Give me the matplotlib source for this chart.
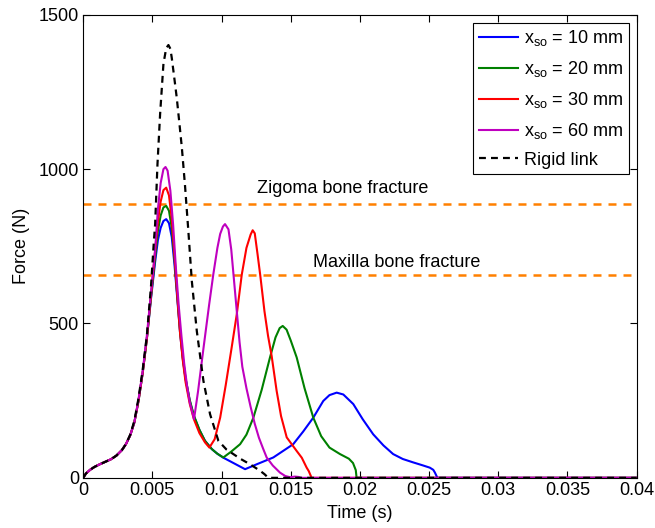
import matplotlib
matplotlib.use("Agg")
import matplotlib.pyplot as plt
from matplotlib.ticker import FormatStrFormatter

plt.rcParams['font.family'] = ['Liberation Sans', 'DejaVu Sans']
plt.rcParams['mathtext.fontset'] = 'custom'
plt.rcParams['mathtext.rm'] = 'Liberation Sans'
plt.rcParams['mathtext.it'] = 'Liberation Sans'

# impact force histories, time in s, force in N
t_10 = [0, 0.0002, 0.0005, 0.0008, 0.0012, 0.0016, 0.002, 0.0024, 0.0028, 0.0031,
        0.0034, 0.0037, 0.004, 0.0043, 0.0046, 0.0049, 0.0052, 0.0054, 0.0056, 0.0058,
        0.006, 0.0062, 0.0064, 0.0066, 0.0068, 0.007, 0.0072, 0.0074, 0.0077, 0.008,
        0.0084, 0.0088, 0.0093, 0.0097, 0.0101, 0.0117, 0.0126, 0.01374, 0.01518, 0.0159,
        0.01663, 0.01735, 0.0178, 0.01832, 0.0188, 0.01952, 0.0202, 0.02096, 0.0217, 0.0224,
        0.0231, 0.02385, 0.0245, 0.02505, 0.0253, 0.02542, 0.0256, 0.04]
f_10 = [0, 14, 26, 35, 44, 52, 60, 72, 90, 110,
        138, 180, 250, 340, 450, 580, 700, 770, 810, 832,
        838, 825, 780, 690, 580, 470, 385, 320, 250, 200,
        155, 120, 93, 78, 66, 28, 45, 66, 109, 150,
        195, 249, 268, 276, 270, 239, 190, 141, 105, 77,
        61, 50, 41, 33, 26, 17, 0, 0]

t_20 = [0, 0.0002, 0.0005, 0.0008, 0.0012, 0.0016, 0.002, 0.0024, 0.0028, 0.0031,
        0.0034, 0.0037, 0.004, 0.0043, 0.0046, 0.0049, 0.0052, 0.0054, 0.0056, 0.0058,
        0.006, 0.0062, 0.0064, 0.0066, 0.0068, 0.007, 0.0072, 0.0074, 0.0077, 0.008,
        0.0084, 0.0088, 0.0093, 0.0097, 0.01013, 0.0107, 0.01134, 0.0118, 0.0123, 0.0129,
        0.0135, 0.0139, 0.0142, 0.01442, 0.0147, 0.0150, 0.01543, 0.016, 0.01663, 0.0172,
        0.0178, 0.01856, 0.0192, 0.0195, 0.0197, 0.01976, 0.04]
f_20 = [0, 14, 26, 35, 44, 52, 60, 72, 90, 110,
        138, 180, 250, 340, 450, 585, 715, 800, 850, 876,
        881, 865, 810, 710, 590, 478, 390, 322, 252, 202,
        156, 120, 93, 78, 66, 85, 109, 140, 195, 285,
        390, 455, 485, 492, 480, 445, 390, 290, 195, 135,
        98, 77, 62, 48, 25, 0, 0]

t_30 = [0, 0.0002, 0.0005, 0.0008, 0.0012, 0.0016, 0.002, 0.0024, 0.0028, 0.0031,
        0.0034, 0.0037, 0.004, 0.0043, 0.0046, 0.0049, 0.0052, 0.0054, 0.0056, 0.0058,
        0.006, 0.0062, 0.0064, 0.0066, 0.0068, 0.007, 0.0072, 0.0074, 0.0077, 0.008,
        0.0084, 0.0088, 0.00912, 0.0095, 0.0099, 0.0103, 0.01073, 0.0111, 0.01146, 0.0118,
        0.0121, 0.01225, 0.0124, 0.0126, 0.0128, 0.0131, 0.01336, 0.01362, 0.01398, 0.0143,
        0.01471, 0.01543, 0.0158, 0.01615, 0.0163, 0.01651, 0.04]
f_30 = [0, 14, 26, 35, 44, 52, 60, 72, 90, 110,
        138, 180, 250, 340, 450, 590, 735, 830, 895, 932,
        940, 915, 840, 720, 590, 470, 380, 310, 240, 190,
        145, 115, 98, 125, 195, 300, 422, 530, 658, 745,
        788, 802, 792, 725, 655, 540, 460, 395, 282, 200,
        131, 87, 65, 33, 22, 0, 0]

t_60 = [0, 0.0002, 0.0005, 0.0008, 0.0012, 0.0016, 0.002, 0.0024, 0.0028, 0.0031,
        0.0034, 0.0037, 0.004, 0.0043, 0.0046, 0.0049, 0.0052, 0.0054, 0.0056, 0.0058,
        0.00595, 0.0061, 0.0063, 0.0065, 0.0067, 0.0069, 0.0071, 0.0073, 0.0075, 0.0077,
        0.00801, 0.0083, 0.0087, 0.0091, 0.0094, 0.0097, 0.0099, 0.0101, 0.01025, 0.0105,
        0.0107, 0.0109, 0.0111, 0.0113, 0.0115, 0.0118, 0.0121, 0.0124, 0.0127, 0.013,
        0.01326, 0.0137, 0.01422, 0.0146, 0.01495, 0.0153, 0.01555, 0.0158, 0.04]
f_60 = [0, 14, 26, 35, 44, 52, 60, 72, 90, 110,
        138, 180, 255, 345, 460, 600, 740, 870, 955, 1000,
        1007, 995, 930, 820, 680, 560, 460, 370, 300, 245,
        190, 280, 422, 560, 658, 745, 790, 814, 822, 805,
        740, 640, 540, 440, 360, 290, 230, 175, 130, 95,
        66, 40, 17, 6, 2, 4, 3, 0, 0]

t_rigid = [0, 0.0002, 0.0005, 0.0008, 0.0012, 0.0016, 0.002, 0.0024, 0.0028, 0.0031,
           0.0034, 0.0037, 0.004, 0.0043, 0.0046, 0.0049, 0.0051, 0.0052, 0.00537, 0.00556,
           0.0058, 0.006, 0.00616, 0.0063, 0.0064, 0.0066, 0.00676, 0.00695, 0.00713, 0.00736,
           0.0076, 0.00785, 0.00821, 0.00869, 0.00917, 0.00977, 0.01035, 0.01085, 0.01135, 0.01182,
           0.0123, 0.01278, 0.0131, 0.01338, 0.04]
f_rigid = [0, 14, 26, 35, 44, 52, 60, 72, 90, 110,
           140, 185, 258, 350, 460, 620, 760, 822, 1017, 1179,
           1341, 1392, 1402, 1390, 1361, 1290, 1232, 1150, 1070, 946,
           800, 638, 476, 314, 206, 120, 92, 77, 62, 50,
           37, 23, 12, 0, 0]

# fracture thresholds (N)
zigoma_limit = 888
maxilla_limit = 658

series = [
    (t_10, f_10, (0, 0, 1), r'$\mathregular{x_{so}}$ = 10 mm'),
    (t_20, f_20, (0, 0.5, 0), r'$\mathregular{x_{so}}$ = 20 mm'),
    (t_30, f_30, (1, 0, 0), r'$\mathregular{x_{so}}$ = 30 mm'),
    (t_60, f_60, (0.75, 0, 0.75), r'$\mathregular{x_{so}}$ = 60 mm'),
]

fs = 13

fig = plt.figure(figsize=(6.55, 5.28), dpi=100)
ax = fig.add_axes([0.127, 0.095, 0.845, 0.877])

ax.axhline(zigoma_limit, color=(1, 0.5, 0), lw=1.8, dashes=(3.2, 2.8))
ax.axhline(maxilla_limit, color=(1, 0.5, 0), lw=1.8, dashes=(3.2, 2.8))

for t, f, c, lab in series:
    ax.plot(t, f, color=c, lw=1.5, label=lab)
ax.plot(t_rigid, f_rigid, color='k', lw=1.6, dashes=(3.1, 2.3), label='Rigid link')

ax.text(0.01877, 936, 'Zigoma bone fracture', ha='center', va='center', fontsize=fs)
ax.text(0.02267, 696, 'Maxilla bone fracture', ha='center', va='center', fontsize=fs)

ax.set_xlim(0, 0.04)
ax.set_ylim(0, 1500)
ax.set_xticks([0, 0.005, 0.01, 0.015, 0.02, 0.025, 0.03, 0.035, 0.04])
ax.set_yticks([0, 500, 1000, 1500])
ax.xaxis.set_major_formatter(FormatStrFormatter('%g'))
ax.tick_params(direction='in', length=5, labelsize=fs, top=True, right=True, pad=3)
ax.set_xlabel('Time (s)', fontsize=fs, labelpad=4)
ax.set_ylabel('Force (N)', fontsize=fs, labelpad=6)

leg = ax.legend(loc='upper right', fontsize=fs, fancybox=False, edgecolor='k',
                framealpha=1, handlelength=2.2, handletextpad=0.3, labelspacing=0.6,
                borderpad=0.3, borderaxespad=0.45)
leg.get_frame().set_linewidth(0.8)

fig.savefig('out.png', dpi=100)
